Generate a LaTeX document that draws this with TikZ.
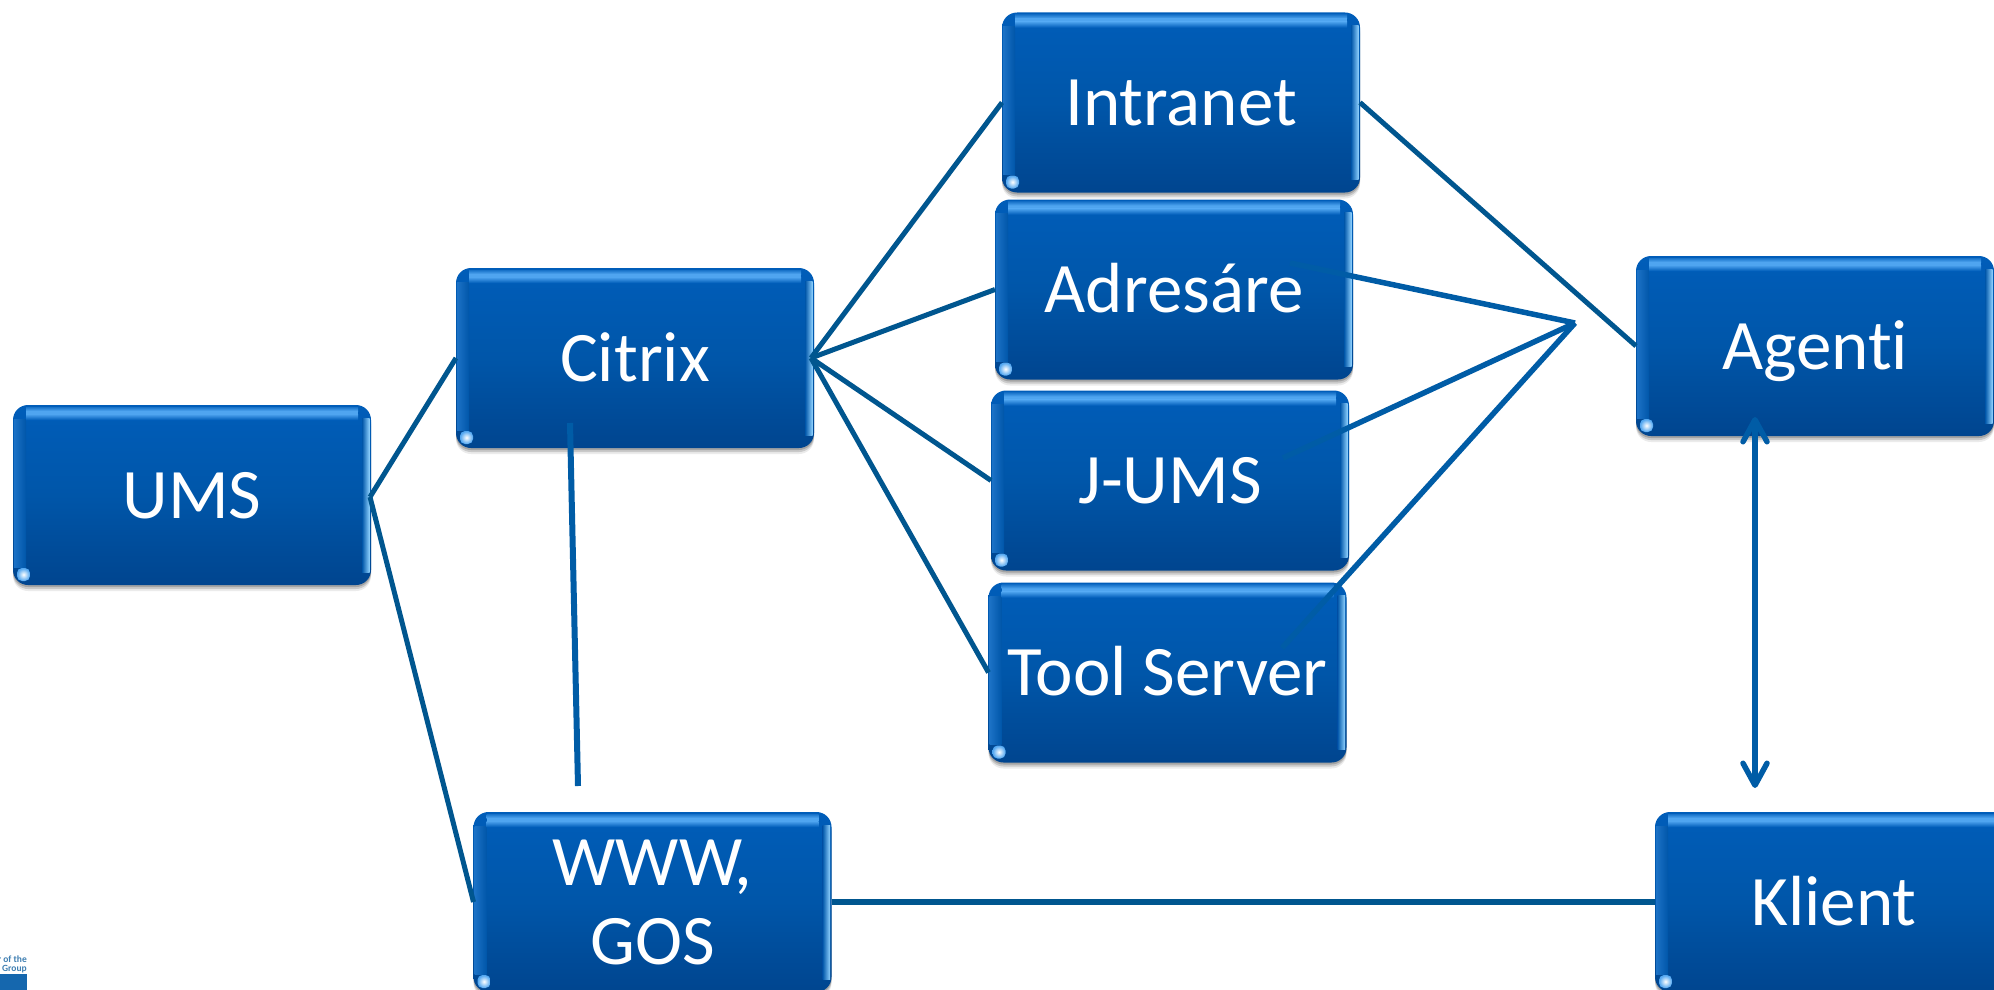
\documentclass[tikz,border=0pt]{standalone}
\usepackage{fontspec}
\setmainfont[Ligatures=NoCommon]{Carlito}
\usetikzlibrary{arrows.meta}
\definecolor{boxtop}{HTML}{005DB9}
\definecolor{boxmid}{HTML}{0056A9}
\definecolor{boxbot}{HTML}{00458F}
\definecolor{linedark}{HTML}{00568F}
\definecolor{linemid}{HTML}{005CA6}
\definecolor{bandtop}{HTML}{4FA5F0}
\definecolor{bandleft}{HTML}{1C72C6}
\definecolor{bandright}{HTML}{8FD2FF}
\definecolor{logoblue}{HTML}{1567AE}
\definecolor{logotext}{HTML}{3F7FB2}
\tikzset{
  glossy/.style={
    rectangle, rounded corners=15pt, minimum width=358pt, minimum height=180pt,
    inner sep=0pt, outer sep=0pt, text=white, align=center,
    font=\fontsize{71}{79}\selectfont,
    top color=boxtop, bottom color=boxbot, middle color=boxmid,
    preaction={fill=black, fill opacity=.08, transform canvas={yshift=-6pt}},
    preaction={fill=black, fill opacity=.14, transform canvas={yshift=-4pt}},
    preaction={fill=black, fill opacity=.18, transform canvas={yshift=-2pt}},
    path picture={
      \begin{scope}[sharp corners]
      \coordinate (NW) at (path picture bounding box.north west);
      \coordinate (NE) at (path picture bounding box.north east);
      \coordinate (SW) at (path picture bounding box.south west);
      \coordinate (SE) at (path picture bounding box.south east);
      \shade[left color=bandleft, right color=boxmid]
        ([shift={(1pt,-14pt)}]NW) rectangle ([shift={(13pt,18pt)}]SW);
      \shade[left color=boxmid, right color=bandright] ([shift={(-9pt,-13pt)}]NE) rectangle ([shift={(-1.5pt,13pt)}]SE);
      \shade[top color=boxtop!70!bandtop, bottom color=bandtop] ([shift={(13pt,-2pt)}]NW) rectangle ([shift={(-13pt,-6pt)}]NE);
      \fill[bandtop] ([shift={(13pt,-6pt)}]NW) rectangle ([shift={(-13pt,-9pt)}]NE);
      \shade[top color=bandtop, bottom color=boxtop] ([shift={(13pt,-9pt)}]NW) rectangle ([shift={(-13pt,-15pt)}]NE);
      \shade[inner color=white, outer color=bandtop, rounded corners=5pt]
        ([shift={(4pt,17pt)}]SW) -- ([shift={(17pt,17pt)}]SW)
        -- ([shift={(17pt,4pt)}]SW) -- ([shift={(4pt,4pt)}]SW) -- cycle;
      \end{scope}
    }
  },
  oneline/.style={text height=46pt, text depth=0pt},
  wiredark/.style={draw=linedark, line width=5pt},
  wiremid/.style={draw=linemid, line width=5.5pt},
}
\begin{document}
\begin{tikzpicture}[x=1pt,y=-1pt]
\useasboundingbox (0,0) rectangle (1994,990);
\clip (0,0) rectangle (1994,990);
\fill[white] (0,0) rectangle (1994,990);

\node[glossy,oneline] (ums) at (192,495) {UMS};
\node[glossy,oneline] (citrix) at (635,358) {Citrix};
\node[glossy,oneline] (intranet) at (1181,102.5) {Intranet};
\node[glossy,oneline] (adresare) at (1174,289.5) {Adresáre};
\node[glossy,oneline] (jums) at (1170,480.5) {J-UMS};
\node[glossy,oneline] (tool) at (1167.5,672.5) {Tool Server};
\node[glossy] (www) at (652.5,902) {WWW,\\GOS};
\node[glossy,oneline] (agenti) at (1815,346) {Agenti};
\node[glossy,oneline] (klient) at (1834,902) {Klient};

\fill[logoblue] (0,974) rectangle (27,990);
\node[anchor=base east, inner sep=0pt, text=logotext, font=\fontsize{9.5}{9.5}\selectfont\bfseries] (logoa) at (27,962) {er of the};
\node[anchor=base east, inner sep=0pt, text=logotext, font=\fontsize{9.5}{9.5}\selectfont\bfseries] (logob) at (27,971.5) {Group};

\coordinate (citrixout) at (811,358);
\coordinate (citrixin) at (570,423);
\coordinate (wwwtop) at (578,786);
\coordinate (hub) at (1575,323);
\coordinate (adin) at (1290,263);
\coordinate (juin) at (1283,458);
\coordinate (toin) at (1282,648);
\coordinate (umsout) at (370,497);
\coordinate (agbot) at (1755,417);
\coordinate (klitop) at (1755,788);

\draw[wiredark] (umsout) -- (citrix.west);
\draw[wiredark] (umsout) -- (www.west);
\draw[wiredark] (citrixout) -- (intranet.west);
\draw[wiredark] (citrixout) -- (adresare.west);
\draw[wiredark] (citrixout) -- (jums.west);
\draw[wiredark] (citrixout) -- (tool.west);
\draw[wiredark] (intranet.east) -- (agenti.west);
\draw[wiremid] (adin) -- (hub);
\draw[wiremid] (juin) -- (hub);
\draw[wiremid] (toin) -- (hub);
\draw[wiremid, line width=6pt] (citrixin) -- (wwwtop);
\draw[wiredark, line width=6pt] (www.east) -- (klient.west);
\draw[wiremid, {Straight Barb[length=22pt,width=24pt,round]}-{Straight Barb[length=22pt,width=24pt,round]}] (agbot) -- (klitop);
\end{tikzpicture}
\end{document}
